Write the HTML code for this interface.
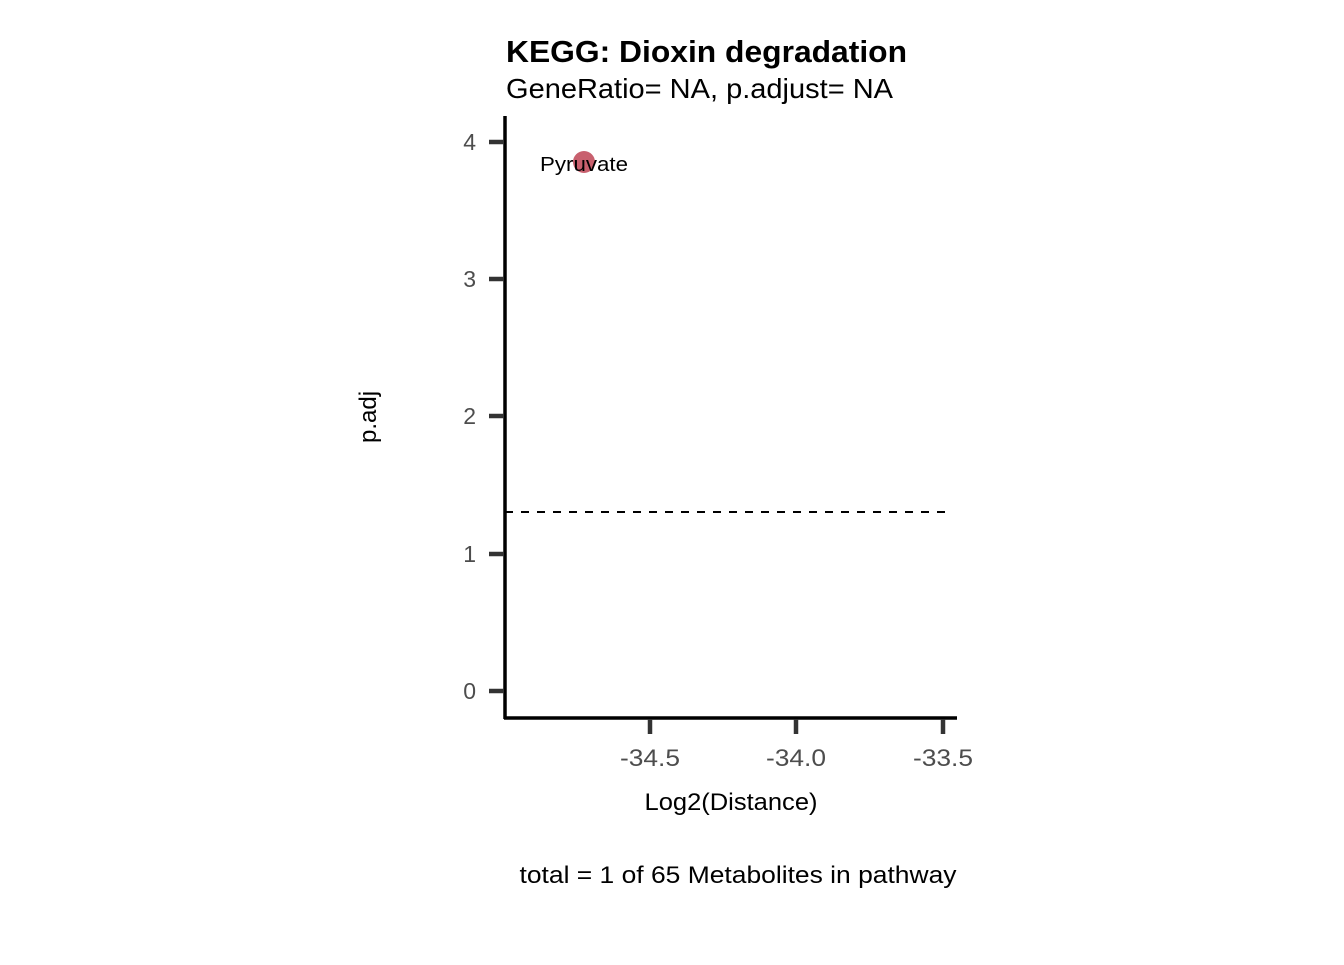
<!DOCTYPE html>
<html><head><meta charset="utf-8"><style>body{margin:0;background:#fff}</style></head>
<body>
<svg width="1344" height="960" xmlns="http://www.w3.org/2000/svg" font-family="Liberation Sans, sans-serif">
<rect width="1344" height="960" fill="#fff"/>
<text x="506" y="62" font-size="31" font-weight="bold" textLength="401" lengthAdjust="spacingAndGlyphs">KEGG: Dioxin degradation</text>
<text x="506" y="98" font-size="28" textLength="387" lengthAdjust="spacingAndGlyphs">GeneRatio= NA, p.adjust= NA</text>
<line x1="505" y1="116" x2="505" y2="719" stroke="#000" stroke-width="3.5"/>
<line x1="504" y1="718" x2="957" y2="718" stroke="#000" stroke-width="3.5"/>
<g stroke="#333" stroke-width="4.5">
<line x1="489" y1="142" x2="504" y2="142"/>
<line x1="489" y1="279" x2="504" y2="279"/>
<line x1="489" y1="416" x2="504" y2="416"/>
<line x1="489" y1="554" x2="504" y2="554"/>
<line x1="489" y1="691" x2="504" y2="691"/>
<line x1="650" y1="719" x2="650" y2="734"/>
<line x1="796" y1="719" x2="796" y2="734"/>
<line x1="943" y1="719" x2="943" y2="734"/>
</g>
<g font-size="23" fill="#4d4d4d" text-anchor="end">
<text x="476" y="150">4</text><text x="476" y="287">3</text><text x="476" y="424">2</text><text x="476" y="562">1</text><text x="476" y="699">0</text>
</g>
<g font-size="24" fill="#4d4d4d" text-anchor="middle">
<text x="650" y="766" textLength="60" lengthAdjust="spacingAndGlyphs">-34.5</text><text x="796" y="766" textLength="60" lengthAdjust="spacingAndGlyphs">-34.0</text><text x="943" y="766" textLength="60" lengthAdjust="spacingAndGlyphs">-33.5</text>
</g>
<line x1="505" y1="512" x2="950" y2="512" stroke="#000" stroke-width="2" stroke-dasharray="8,8"/>
<circle cx="584" cy="162" r="11" fill="#c8606e"/>
<text x="584" y="171" font-size="20" text-anchor="middle" textLength="88" lengthAdjust="spacingAndGlyphs">Pyruvate</text>
<text x="731" y="810" font-size="24" text-anchor="middle" textLength="173" lengthAdjust="spacingAndGlyphs">Log2(Distance)</text>
<text transform="translate(376,417) rotate(-90)" font-size="24" text-anchor="middle">p.adj</text>
<text x="738" y="883" font-size="24" text-anchor="middle" textLength="437" lengthAdjust="spacingAndGlyphs">total = 1 of 65 Metabolites in pathway</text>
</svg>
</body></html>
